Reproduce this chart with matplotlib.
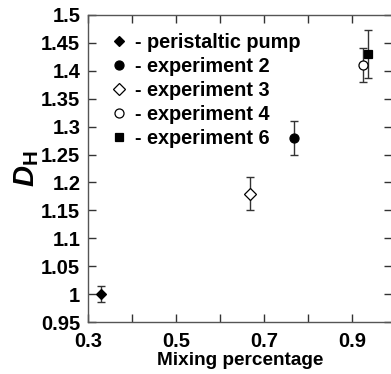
import matplotlib
matplotlib.use("Agg")
import matplotlib.pyplot as plt
from matplotlib.ticker import MultipleLocator, FixedLocator, FormatStrFormatter, FuncFormatter

plt.rcParams['font.family'] = ['Liberation Sans', 'DejaVu Sans']
plt.rcParams['font.weight'] = 'bold'
plt.rcParams['mathtext.fontset'] = 'custom'
plt.rcParams['mathtext.it'] = 'Liberation Sans:italic:bold'
plt.rcParams['mathtext.rm'] = 'Liberation Sans:bold'

# Data: mixing percentage vs. hydraulic dimension D_H
labels = ['- peristaltic pump', '- experiment 2', '- experiment 3',
          '- experiment 4', '- experiment 6']
mixing = [0.329, 0.769, 0.668, 0.926, 0.937]
dh = [1.00, 1.28, 1.18, 1.41, 1.43]
dh_err = [0.015, 0.03, 0.03, 0.03, 0.043]
markers = ['D', 'o', 'D', 'o', 's']
filled = [True, True, False, False, True]
msizes = [5.5, 6.5, 6.0, 6.5, 5.5]

x_ticks = [0.3, 0.5, 0.7, 0.9]

W, H = 391, 374
fig = plt.figure(figsize=(W / 100, H / 100), dpi=100)
left, right, top, bottom = 88, 392, 15, 322
ax = fig.add_axes([left / W, 1 - bottom / H, (right - left) / W, (bottom - top) / H])

handles = []
for x, y, e, m, f, ms, lab in zip(mixing, dh, dh_err, markers, filled, msizes, labels):
    ax.errorbar(x, y, yerr=e, fmt='none', ecolor='#333333', elinewidth=1.0,
                capsize=3.0, capthick=1.0, zorder=2)
    h, = ax.plot(x, y, linestyle='none', marker=m, markersize=ms,
                 markerfacecolor='black' if f else 'white',
                 markeredgecolor='black', markeredgewidth=0.9, zorder=3,
                 label=lab)
    handles.append(h)

ax.set_xlim(0.3, 0.3 + (right - left) / 440)
ax.set_ylim(0.95, 1.5)

ax.xaxis.set_major_locator(FixedLocator(x_ticks))
ax.xaxis.set_minor_locator(MultipleLocator(0.1))
ax.xaxis.set_major_formatter(FormatStrFormatter('%g'))
ax.yaxis.set_major_locator(MultipleLocator(0.05))
ax.yaxis.set_major_formatter(FuncFormatter(lambda v, p: f'{v:.2f}'.rstrip('0').rstrip('.')))

ax.tick_params(which='both', direction='in', top=True, right=True,
               length=6, width=1.0, color='#333333', labelsize=14.5)
ax.tick_params(axis='y', pad=5.5)
ax.tick_params(axis='x', pad=7)
for s in ax.spines.values():
    s.set_linewidth(1.0)
    s.set_color('#555555')

ax.set_xlabel('Mixing percentage', fontsize=13.7, fontweight='bold', labelpad=1)
ax.set_ylabel(r'$D_{\mathrm{H}}$', fontsize=21, labelpad=0)

leg = ax.legend(handles=handles, loc='upper left', bbox_to_anchor=(0.06, 0.955),
                frameon=False, handlelength=0.9, handletextpad=0.35,
                labelspacing=0.26, borderaxespad=0, borderpad=0.2,
                prop={'weight': 'bold', 'size': 14.3})

fig.savefig('out.png', dpi=100)
